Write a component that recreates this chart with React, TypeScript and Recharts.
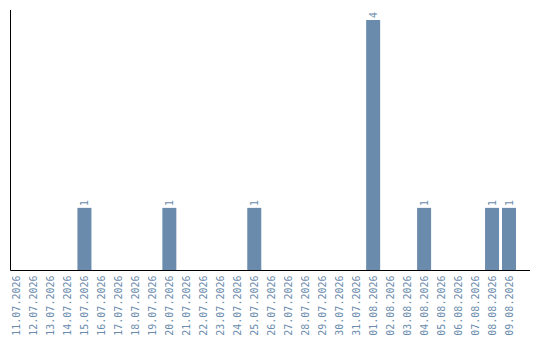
import React from "react";
import { BarChart, Bar, XAxis, YAxis, LabelList } from "recharts";

// Tägliche Anzahl, 11.07.2026 – 09.08.2026
const days = [
  "11.07.2026", "12.07.2026", "13.07.2026", "14.07.2026", "15.07.2026",
  "16.07.2026", "17.07.2026", "18.07.2026", "19.07.2026", "20.07.2026",
  "21.07.2026", "22.07.2026", "23.07.2026", "24.07.2026", "25.07.2026",
  "26.07.2026", "27.07.2026", "28.07.2026", "29.07.2026", "30.07.2026",
  "31.07.2026", "01.08.2026", "02.08.2026", "03.08.2026", "04.08.2026",
  "05.08.2026", "06.08.2026", "07.08.2026", "08.08.2026", "09.08.2026",
];
const counts = [
  0, 0, 0, 0, 1,
  0, 0, 0, 0, 1,
  0, 0, 0, 0, 1,
  0, 0, 0, 0, 0,
  0, 4, 0, 0, 1,
  0, 0, 0, 1, 1,
];

const BAR = "#6a8bab";
const TEXT = "#6a8bab";
const FONT = "'DejaVu Sans Mono', monospace";

const data = days.map((day, i) => ({ day, count: counts[i] }));

// Datum senkrecht unter der Achse
const DayTick = (props: any) => {
  const { x, y, payload } = props;
  return (
    <g transform={`translate(${x},${y})`}>
      <text
        transform="rotate(-90)"
        x={-5}
        y={0}
        dy="0.35em"
        textAnchor="end"
        fill={TEXT}
        fontSize={10}
        fontFamily={FONT}
      >
        {payload.value}
      </text>
    </g>
  );
};

// Wert über dem Balken, ebenfalls senkrecht; Nullen ausblenden
const CountLabel = (props: any) => {
  const { x, y, width, value } = props;
  if (!value) return null;
  const cx = x + width / 2;
  const cy = y - 2;
  return (
    <text
      transform={`rotate(-90, ${cx}, ${cy})`}
      x={cx}
      y={cy}
      dy="0.35em"
      textAnchor="start"
      fill={TEXT}
      fontSize={10}
      fontFamily={FONT}
    >
      {value}
    </text>
  );
};

export default function App() {
  return (
    <BarChart
      width={532}
      height={332}
      data={data}
      margin={{ top: 2, right: 10, bottom: 0, left: 1.5 }}
      barSize={14}
    >
      <XAxis
        dataKey="day"
        interval={0}
        height={69.5}
        tick={<DayTick />}
        tickSize={0}
        tickMargin={0}
        tickLine={false}
        axisLine={{ stroke: "#000", strokeWidth: 1 }}
        padding={{ left: -2, right: 12 }}
      />
      <YAxis
        width={1}
        tick={false}
        tickLine={false}
        axisLine={{ stroke: "#000", strokeWidth: 1 }}
        domain={[0, (max: number) => max * 1.04]}
      />
      <Bar dataKey="count" fill={BAR} isAnimationActive={false}>
        <LabelList dataKey="count" content={<CountLabel />} />
      </Bar>
    </BarChart>
  );
}
